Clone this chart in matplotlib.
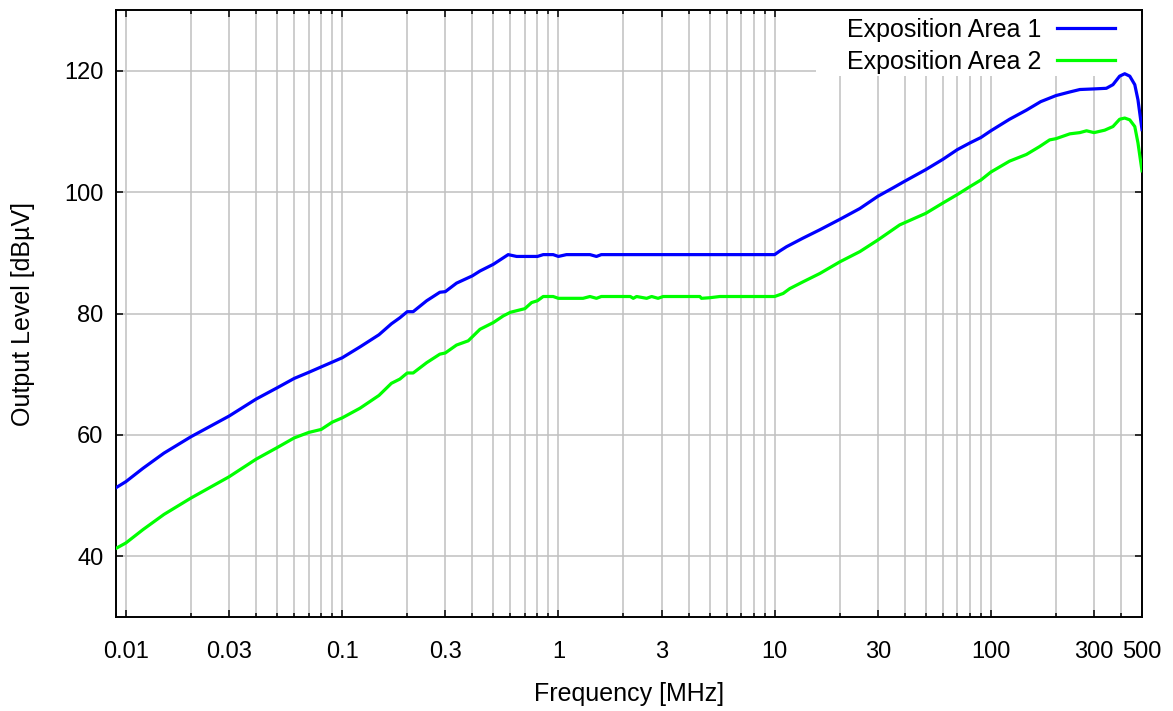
import matplotlib
matplotlib.use("Agg")
import matplotlib.pyplot as plt
from matplotlib.ticker import FixedLocator, NullFormatter, MultipleLocator
from matplotlib.patches import Rectangle

# ---- data ----
freq_area1 = [0.009, 0.01, 0.012, 0.015, 0.02, 0.03, 0.04, 0.05, 0.06, 0.07, 0.08, 0.1,
              0.121, 0.148, 0.169, 0.185, 0.2, 0.213, 0.246, 0.283, 0.3, 0.338, 0.4, 0.434,
              0.5, 0.586, 0.641, 0.8, 0.851, 0.946, 1.0, 1.09, 1.40, 1.50, 1.58, 10.0,
              10.57, 11.35, 13.5, 16.2, 20, 24.8, 30, 35.3, 40, 50, 60, 70, 80, 90, 100,
              122, 146, 170, 200, 232, 258, 300, 342, 367, 394, 416, 439, 463, 479, 500]
level_area1 = [51.3, 52.3, 54.5, 57.0, 59.7, 63.1, 65.9, 67.75, 69.3, 70.3, 71.2, 72.7,
               74.5, 76.5, 78.3, 79.3, 80.3, 80.3, 82.1, 83.5, 83.6, 85.0, 86.2, 87.0,
               88.1, 89.7, 89.4, 89.4, 89.7, 89.7, 89.4, 89.7, 89.7, 89.4, 89.7, 89.7,
               90.3, 91.0, 92.4, 93.8, 95.5, 97.3, 99.3, 100.7, 101.8, 103.7, 105.4, 107.0,
               108.1, 109.0, 110.1, 112.0, 113.5, 114.9, 115.9, 116.5, 116.9, 117.0, 117.1,
               117.7, 119.1, 119.5, 119.1, 117.7, 115.2, 110.3]

freq_area2 = [0.009, 0.01, 0.012, 0.015, 0.02, 0.03, 0.04, 0.05, 0.06, 0.07, 0.08, 0.09, 0.1,
              0.121, 0.148, 0.169, 0.185, 0.2, 0.213, 0.246, 0.283, 0.3, 0.338, 0.383, 0.434,
              0.5, 0.556, 0.6, 0.7, 0.752, 0.8, 0.851, 0.946, 1.0, 1.30, 1.40, 1.50, 1.58,
              2.15, 2.22, 2.30, 2.56, 2.70, 2.89, 3.05, 4.51, 4.59, 5.02, 5.58, 10.0,
              10.95, 11.75, 13.5, 16.2, 20, 24.8, 30, 37.9, 50, 60, 70, 80, 90, 100,
              122, 146, 168, 187, 200, 232, 258, 277, 300, 336, 367, 394, 416, 439, 463, 479, 500]
level_area2 = [41.3, 42.2, 44.4, 46.9, 49.6, 53.1, 56.0, 57.9, 59.5, 60.4, 60.9, 62.1, 62.8,
               64.4, 66.5, 68.5, 69.2, 70.2, 70.2, 71.9, 73.3, 73.5, 74.8, 75.5, 77.4,
               78.5, 79.6, 80.2, 80.8, 81.8, 82.1, 82.8, 82.8, 82.5, 82.5, 82.8, 82.5, 82.8,
               82.8, 82.5, 82.8, 82.5, 82.8, 82.5, 82.8, 82.8, 82.5, 82.6, 82.8, 82.8,
               83.3, 84.1, 85.2, 86.6, 88.5, 90.2, 92.1, 94.6, 96.5, 98.2, 99.6, 100.9,
               102.0, 103.3, 105.1, 106.2, 107.5, 108.6, 108.8, 109.6, 109.8, 110.1, 109.8,
               110.2, 110.8, 112.0, 112.2, 111.9, 110.8, 108.1, 103.5]

series_labels = ["Exposition Area 1", "Exposition Area 2"]
x_tick_values = [0.01, 0.03, 0.1, 0.3, 1, 3, 10, 30, 100, 300, 500]
x_tick_labels = ["0.01", "0.03", "0.1", "0.3", "1", "3", "10", "30", "100", "300", "500"]

# ---- figure ----
plt.rcParams['font.family'] = ['Liberation Sans', 'DejaVu Sans']
FS_TICK = 17
FS_LAB = 18

W, H = 1173, 711
L, R, T, B = 116, 1142, 10, 617

fig = plt.figure(figsize=(W / 100, H / 100), dpi=100)
ax = fig.add_axes([L / W, (H - B) / H, (R - L) / W, (B - T) / H])

ax.plot(freq_area1, level_area1, color='#0000ff', lw=2.3, label=series_labels[0],
        solid_joinstyle='round', zorder=3)
ax.plot(freq_area2, level_area2, color='#00ff00', lw=2.3, label=series_labels[1],
        solid_joinstyle='round', zorder=3)

ax.set_xscale('log')
ax.set_xlim(0.009, 500)
ax.set_ylim(30, 130)

minor = [m * 10.0**e for e in range(-3, 3) for m in range(1, 10)]
minor = [v for v in minor if 0.009 <= v <= 500]
ax.xaxis.set_major_locator(FixedLocator(x_tick_values))
ax.set_xticklabels(x_tick_labels)
ax.xaxis.set_minor_locator(FixedLocator(minor))
ax.xaxis.set_minor_formatter(NullFormatter())
ax.yaxis.set_major_locator(MultipleLocator(20))

ax.grid(True, which='both', axis='x', color='#c0c0c0', lw=1.1, zorder=0)
ax.grid(True, which='major', axis='y', color='#c0c0c0', lw=1.1, zorder=0)
ax.set_axisbelow(True)

ax.tick_params(which='both', direction='in', top=True, right=True, labelsize=FS_TICK, width=1.1)
ax.tick_params(which='major', length=5)
ax.tick_params(which='minor', length=3)
ax.tick_params(axis='x', which='major', pad=17)
ax.tick_params(axis='y', which='major', pad=9)

for s in ax.spines.values():
    s.set_linewidth(1.4)
    s.set_color('black')

ax.set_xlabel("Frequency [MHz]", fontsize=FS_LAB)
ax.set_ylabel("Output Level [dBµV]", fontsize=FS_LAB)
ax.xaxis.set_label_coords(0.5, (B - 682) / (B - T))
ax.yaxis.set_label_coords((35 - L) / (R - L), 0.5)

# white background behind the key (covers the grid like the reference)
ax.add_patch(Rectangle(((816 - L) / (R - L), (B - 76) / (B - T)),
                       (R - 816) / (R - L), (76 - T) / (B - T),
                       transform=ax.transAxes, facecolor='white', edgecolor='none',
                       zorder=2))

leg = ax.legend(loc='upper right',
                bbox_to_anchor=((1115 - L) / (R - L), (B - 18) / (B - T)),
                fontsize=FS_LAB, markerfirst=False, frameon=False,
                handlelength=2.32, handletextpad=0.64, labelspacing=0.3,
                borderpad=0.0, borderaxespad=0.0)
leg.set_zorder(5)

fig.savefig("out.png", dpi=100)
